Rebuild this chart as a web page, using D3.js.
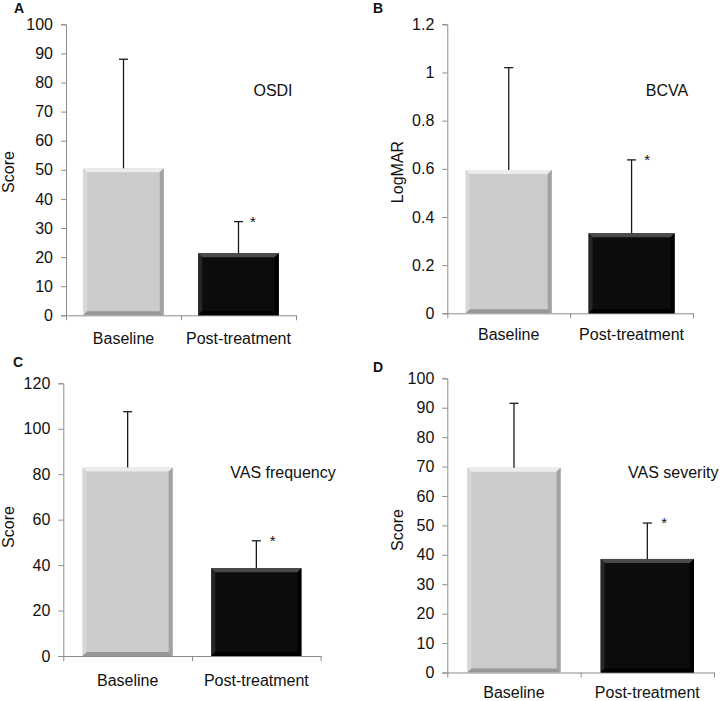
<!DOCTYPE html>
<html>
<head>
<meta charset="utf-8">
<script src="https://cdn.jsdelivr.net/npm/d3@7"></script>
<style>
  body { margin: 0; background: #fff; }
  svg { display: block; font-family: "Liberation Sans", Arial, sans-serif; }
  .eje path, .eje line { stroke: #8c8c8c; }
  .eje text { font-size: 16px; fill: #111; }
</style>
</head>
<body>
<div id="graf"></div>
<script>
// Datos
categorias = ['Baseline', 'Post-treatment']

osdiMedia = [50.5, 21.3]
osdiDE    = [37.5, 10.9]
bcvaMedia = [0.595, 0.332]
bcvaDE    = [0.425, 0.305]
vasFrecMedia = [82.9, 38.6]
vasFrecDE    = [24.6, 12.1]
vasSevMedia  = [69.6, 38.6]
vasSevDE     = [21.9, 12.2]

ticks100  = [0, 10, 20, 30, 40, 50, 60, 70, 80, 90, 100]
ticksBCVA = [0, 0.2, 0.4, 0.6, 0.8, 1, 1.2]
ticks120  = [0, 20, 40, 60, 80, 100, 120]

significativo = ['', '*']

// Configuracion de cada panel (posiciones en px)
paneles = [
  { letra: 'A', lx: 14, ly: 13, titulo: 'OSDI', tx: 273, ty: 96, anchor: 'middle',
    ejeY: 'Score', ex: 8, ey: 172, padX: 17,
    x0: 66, x1: 296, yTop: 24.3, yBot: 315.3, max: 100, ticks: ticks100,
    media: osdiMedia, de: osdiDE },
  { letra: 'B', lx: 373, ly: 13, titulo: 'BCVA', tx: 667, ty: 96, anchor: 'middle',
    ejeY: 'LogMAR', ex: 397, ey: 172, padX: 15,
    x0: 447.3, x1: 693, yTop: 24.3, yBot: 313.3, max: 1.2, ticks: ticksBCVA,
    media: bcvaMedia, de: bcvaDE },
  { letra: 'C', lx: 13, ly: 367, titulo: 'VAS frequency', tx: 283, ty: 478, anchor: 'middle',
    ejeY: 'Score', ex: 8, ey: 527, padX: 19,
    x0: 63.3, x1: 320.7, yTop: 383.3, yBot: 656, max: 120, ticks: ticks120,
    media: vasFrecMedia, de: vasFrecDE },
  { letra: 'D', lx: 373, ly: 372, titulo: 'VAS severity', tx: 628, ty: 478, anchor: 'start',
    ejeY: 'Score', ex: 397, ey: 530, padX: 14,
    x0: 447.3, x1: 714, yTop: 378.3, yBot: 672.5, max: 100, ticks: ticks100,
    media: vasSevMedia, de: vasSevDE }
]

colores = [
  { fill: '#cbcbcb', top: '#ececec', left: '#d8d8d8', right: '#a2a2a2', bottom: '#979797' },
  { fill: '#0c0c0c', top: '#4a4a4a', left: '#262626', right: '#000000', bottom: '#000000' }
]

svg = d3.select('#graf').append('svg')
  .attr('width', 721)
  .attr('height', 701)

svg.append('rect').attr('width', 721).attr('height', 701).attr('fill', '#fff')

function render(p) {
  g = svg.append('g')

  x = d3.scaleBand().domain(categorias).range([p.x0, p.x1])
        .paddingInner(0.3).paddingOuter(0.15)
  y = d3.scaleLinear().domain([0, p.max]).range([p.yBot, p.yTop])
  // escala auxiliar para los ticks entre categorias
  xLim = d3.scaleLinear().domain([0, categorias.length]).range([p.x0, p.x1])

  // Eje Y
  g.append('g')
    .attr('class', 'eje')
    .attr('transform', `translate(${p.x0}, 0)`)
    .call(d3.axisLeft(y).tickValues(p.ticks).tickSize(5).tickPadding(8)
      .tickFormat(d => String(+d.toFixed(1))))

  // Eje X: linea + ticks en los limites
  g.append('g')
    .attr('class', 'eje')
    .attr('transform', `translate(0, ${p.yBot})`)
    .call(d3.axisBottom(xLim).tickValues(d3.range(categorias.length + 1))
      .tickSize(5).tickSizeOuter(0).tickFormat(''))

  g.append('g')
    .attr('class', 'eje')
    .attr('transform', `translate(0, ${p.yBot})`)
    .call(d3.axisBottom(x).tickSize(0).tickPadding(p.padX))
    .call(s => s.select('.domain').remove())

  // Barras con bisel
  b = 4
  categorias.forEach((c, i) => {
    xa = x(c), xb = x(c) + x.bandwidth()
    ya = y(p.media[i]), yb = y(0)
    col = colores[i]
    barra = g.append('g')
    barra.append('rect')
      .attr('x', xa).attr('y', ya)
      .attr('width', xb - xa).attr('height', yb - ya)
      .attr('fill', col.fill)
    poly = pts => barra.append('polygon').attr('points', pts.map(q => q.join(',')).join(' '))
    poly([[xa, ya], [xb, ya], [xb - b, ya + b], [xa + b, ya + b]]).attr('fill', col.top)
    poly([[xa, ya], [xa + b, ya + b], [xa + b, yb - b], [xa, yb]]).attr('fill', col.left)
    poly([[xb, ya], [xb, yb], [xb - b, yb - b], [xb - b, ya + b]]).attr('fill', col.right)
    poly([[xa, yb], [xa + b, yb - b], [xb - b, yb - b], [xb, yb]]).attr('fill', col.bottom)

    // barra de error (solo hacia arriba)
    xc = xa + x.bandwidth() / 2
    ye = y(p.media[i] + p.de[i])
    g.append('line')
      .attr('x1', xc).attr('x2', xc).attr('y1', ya).attr('y2', ye)
      .attr('stroke', '#1a1a1a').attr('stroke-width', 1.3)
    g.append('line')
      .attr('x1', xc - 4.5).attr('x2', xc + 4.5).attr('y1', ye).attr('y2', ye)
      .attr('stroke', '#1a1a1a').attr('stroke-width', 1.3)

    if (significativo[i]) {
      g.append('text')
        .attr('x', xc + x.bandwidth() * 0.18)
        .attr('y', ye + 5)
        .attr('text-anchor', 'middle')
        .style('font-size', '15px')
        .attr('fill', '#111')
        .text(significativo[i])
    }
  })

  // Titulos y etiquetas
  g.append('text').attr('x', p.tx).attr('y', p.ty)
    .attr('text-anchor', p.anchor).style('font-size', '16px').attr('fill', '#111')
    .text(p.titulo)

  g.append('text')
    .attr('transform', `translate(${p.ex}, ${p.ey}) rotate(-90)`)
    .attr('dy', '0.35em')
    .attr('text-anchor', 'middle').style('font-size', '16px').attr('fill', '#111')
    .text(p.ejeY)

  g.append('text').attr('x', p.lx).attr('y', p.ly)
    .style('font-size', '14px').style('font-weight', 'bold').attr('fill', '#111')
    .text(p.letra)
}

paneles.forEach(render)
</script>
</body>
</html>
